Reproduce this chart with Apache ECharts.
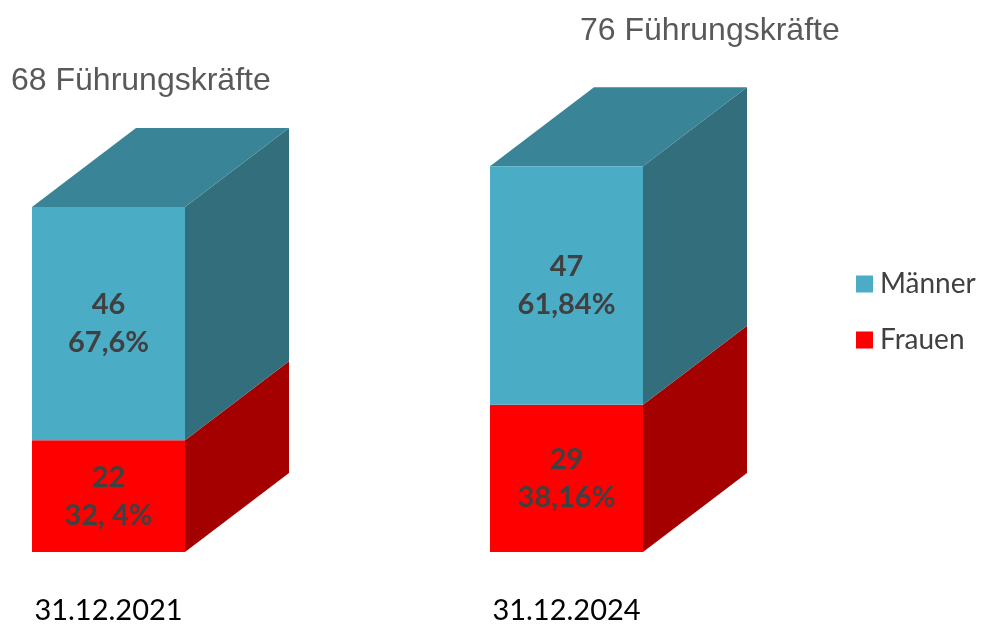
<!DOCTYPE html>
<html>
<head>
<meta charset="utf-8">
<script src="https://cdn.jsdelivr.net/npm/echarts@6/dist/echarts.min.js"></script>
<style>html,body{margin:0;padding:0;background:#fff}#c{width:987px;height:625px}</style>
</head>
<body>
<div id="c"></div>
<script>
// Data
const categories = ['31.12.2021', '31.12.2024'];
const frauen = [22, 29];
const maenner = [46, 47];
const frauenPct = ['32, 4%', '38,16%'];
const maennerPct = ['67,6%', '61,84%'];
const seriesNames = ['Männer', 'Frauen'];

const totals = categories.map((c, i) => frauen[i] + maenner[i]);

// styles
const BAR_W = 153, DX = 104, DY = 79;
const COL = {
  'Männer': { front: '#4BACC6', side: '#336E7D', top: '#3A8497' },
  'Frauen': { front: '#FF0000', side: '#A50000', top: '#C00000' }
};

function makeRender(name, drawTop) {
  const c = COL[name];
  return function (params, api) {
    const idx = api.value(0);
    const p0 = api.coord([idx, api.value(1)]);
    const p1 = api.coord([idx, api.value(2)]);
    const x0 = p0[0] - BAR_W / 2, x1 = p0[0] + BAR_W / 2;
    const yb = p0[1], yt = p1[1];
    const children = [];
    children.push({
      type: 'polygon',
      shape: { points: [[x1, yb], [x1 + DX, yb - DY], [x1 + DX, yt - DY], [x1, yt]] },
      style: { fill: c.side }
    });
    if (drawTop) {
      children.push({
        type: 'polygon',
        shape: { points: [[x0, yt], [x1, yt], [x1 + DX, yt - DY], [x0 + DX, yt - DY]] },
        style: { fill: c.top }
      });
    }
    children.push({
      type: 'rect',
      shape: { x: x0, y: yt, width: BAR_W, height: yb - yt },
      style: { fill: c.front },
      textContent: {
        style: {
          text: api.value(3),
          fontFamily: 'Lato', fontWeight: 'bold', fontSize: 29,
          lineHeight: 38, fill: '#404040', align: 'center', verticalAlign: 'middle'
        }
      },
      textConfig: { position: 'inside' }
    });
    return { type: 'group', children };
  };
}

const frauenData = categories.map((c, i) => [i, 0, frauen[i], frauen[i] + '\n' + frauenPct[i]]);
const maennerData = categories.map((c, i) => [i, frauen[i], frauen[i] + maenner[i], maenner[i] + '\n' + maennerPct[i]]);

const chart = echarts.init(document.getElementById('c'));
chart.setOption({
  animation: false,
  backgroundColor: '#ffffff',
  title: [
    { text: totals[0] + ' Führungskräfte', left: 11, top: 65, padding: 0,
      textStyle: { fontFamily: 'Liberation Sans', fontWeight: 'normal', fontSize: 32, lineHeight: 32, color: '#595959' } },
    { text: totals[1] + ' Führungskräfte', left: 580, top: 15, padding: 0,
      textStyle: { fontFamily: 'Liberation Sans', fontWeight: 'normal', fontSize: 32, lineHeight: 32, color: '#595959' } }
  ],
  legend: {
    data: seriesNames,
    orient: 'vertical',
    left: 856, top: 270,
    itemWidth: 17, itemHeight: 17, itemGap: 28,
    icon: 'rect',
    padding: 0,
    textStyle: { fontFamily: 'Lato', fontSize: 28, color: '#404040', padding: [0, 0, 0, 2] }
  },
  grid: { left: 108.5, right: 420.5, top: 44.5, bottom: 73 },
  xAxis: {
    type: 'category', data: categories, boundaryGap: false,
    axisLine: { show: false }, axisTick: { show: false }, splitLine: { show: false },
    axisLabel: { margin: 44, fontFamily: 'Lato', fontSize: 29, color: '#000000' }
  },
  yAxis: { type: 'value', min: 0, max: 100, show: false, splitLine: { show: false } },
  series: [
    { name: 'Frauen', type: 'custom', renderItem: makeRender('Frauen', false),
      itemStyle: { color: COL['Frauen'].front },
      encode: { x: 0, y: [1, 2] }, data: frauenData },
    { name: 'Männer', type: 'custom', renderItem: makeRender('Männer', true),
      itemStyle: { color: COL['Männer'].front },
      encode: { x: 0, y: [1, 2] }, data: maennerData }
  ]
});
</script>
</body>
</html>
